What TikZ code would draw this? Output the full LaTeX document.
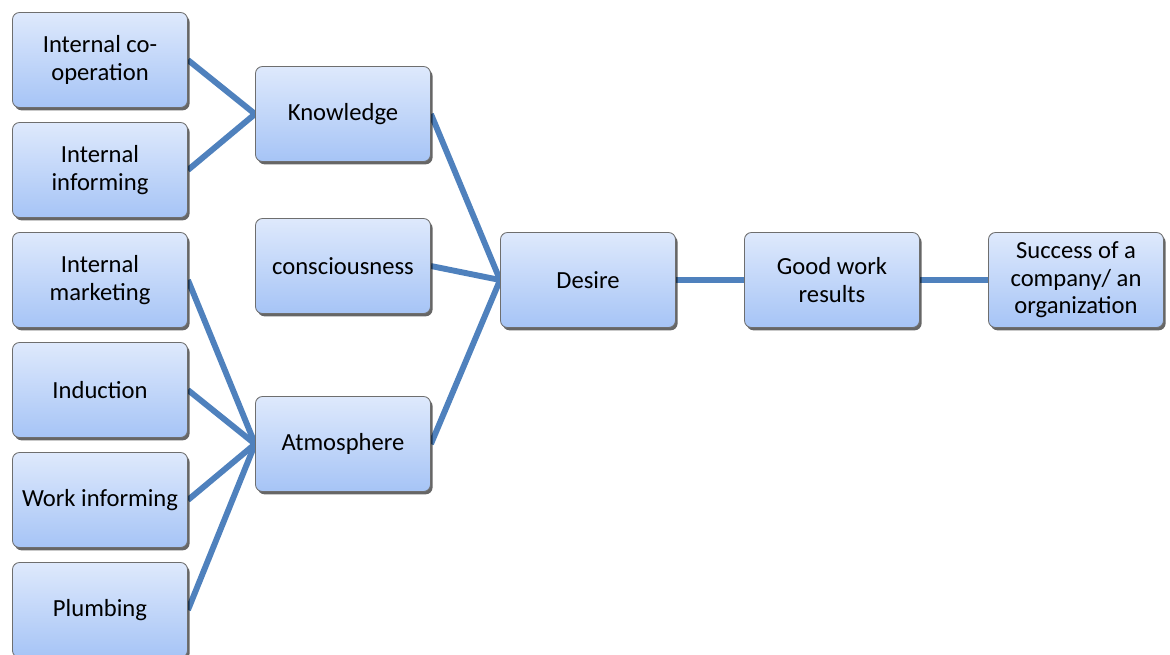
\documentclass[tikz,border=0pt]{standalone}
\usepackage{fontspec}
\setmainfont{Carlito}
\usetikzlibrary{shadows,backgrounds}
\definecolor{boxtop}{RGB}{222,233,252}
\definecolor{boxbot}{RGB}{166,196,246}
\definecolor{boxline}{RGB}{110,110,110}
\definecolor{linkblue}{RGB}{79,129,189}
\begin{document}
\begin{tikzpicture}[
      x=0.025cm, y=-0.025cm,
      box/.style={draw=boxline, line width=0.6pt, rounded corners=5pt,
                  top color=boxtop, bottom color=boxbot,
                  minimum width=4.375cm, minimum height=2.375cm,
                  align=center, text=black,
                  font=\fontsize{17.5}{19.5}\selectfont,
                  drop shadow={shadow xshift=1.5pt, shadow yshift=-2pt,
                               fill=black, opacity=0.6}},
      link/.style={draw=linkblue, line width=4.2pt}
    ]
      \useasboundingbox (0,0) rectangle (1170,654);
      % left column
      \foreach \nm/\txt [count=\i from 0] in {coop/{Internal co-\\operation},
          ininf/{Internal\\informing}, inmkt/{Internal\\marketing},
          induct/Induction, workinf/Work informing, plumb/Plumbing} {
        \node[box] (\nm) at (100,{60+110*\i}) {\txt};
      }
      % middle column
      \node[box] (know) at (343,114) {Knowledge};
      \node[box] (consc) at (343,266) {consciousness};
      \node[box] (atmo) at (343,444) {Atmosphere};
      % right row
      \node[box] (desire) at (588,280) {Desire};
      \node[box] (good) at (832,280) {Good work\\results};
      \node[box] (success) at (1076,280) {Success of a\\company/ an\\organization};
      \begin{scope}[on background layer]
        \foreach \a in {coop,ininf}
          \draw[link] (\a.east) -- (know.west);
        \foreach \a in {inmkt,induct,workinf,plumb}
          \draw[link] (\a.east) -- (atmo.west);
        \foreach \a in {know,consc,atmo}
          \draw[link] (\a.east) -- (desire.west);
        \draw[link] (desire) -- (good) -- (success);
      \end{scope}
    \end{tikzpicture}
\end{document}
